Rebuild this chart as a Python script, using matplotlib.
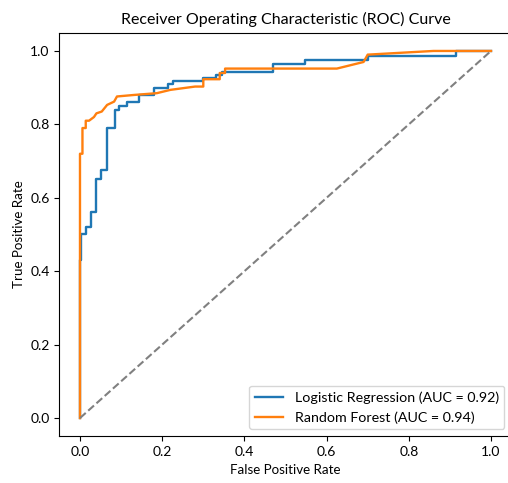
import matplotlib
matplotlib.use("Agg")
import matplotlib.pyplot as plt

plt.rcParams['font.family'] = ['Lato', 'DejaVu Sans']

# ROC points for the two models
fpr_lr = [0, 0, 0.002, 0.002, 0.014, 0.014, 0.026, 0.026, 0.038, 0.038, 0.05, 0.05,
          0.066, 0.066, 0.084, 0.084, 0.095, 0.095, 0.114, 0.114, 0.144, 0.144,
          0.18, 0.18, 0.215, 0.215, 0.227, 0.227, 0.30, 0.30, 0.33, 0.33,
          0.345, 0.345, 0.47, 0.47, 0.547, 0.547, 0.70, 0.70, 0.915, 0.915, 1.0]
tpr_lr = [0, 0.43, 0.43, 0.50, 0.50, 0.52, 0.52, 0.56, 0.56, 0.65, 0.65, 0.675,
          0.675, 0.79, 0.79, 0.84, 0.84, 0.85, 0.85, 0.86, 0.86, 0.88,
          0.88, 0.90, 0.90, 0.91, 0.91, 0.917, 0.917, 0.925, 0.925, 0.935,
          0.935, 0.944, 0.944, 0.964, 0.964, 0.975, 0.975, 0.985, 0.985, 1.0, 1.0]

fpr_rf = [0, 0, 0.006, 0.006, 0.014, 0.014, 0.022, 0.034, 0.04, 0.053, 0.066,
          0.083, 0.09, 0.13, 0.187, 0.22, 0.28, 0.30, 0.30, 0.34, 0.34, 0.353,
          0.353, 0.625, 0.69, 0.70, 0.86, 1.0]
tpr_rf = [0, 0.72, 0.72, 0.79, 0.79, 0.81, 0.81, 0.82, 0.83, 0.835, 0.853,
          0.862, 0.876, 0.88, 0.885, 0.894, 0.903, 0.903, 0.923, 0.923, 0.94, 0.94,
          0.952, 0.952, 0.97, 0.99, 1.0, 1.0]

auc_lr = 0.92
auc_rf = 0.94

fig = plt.figure(figsize=(5.08, 4.83), dpi=100)
ax = fig.add_axes([0.117, 0.0965, 0.89, 0.836])

ax.plot(fpr_lr, tpr_lr, lw=1.7, label=f'Logistic Regression (AUC = {auc_lr:.2f})')
ax.plot(fpr_rf, tpr_rf, lw=1.7, label=f'Random Forest (AUC = {auc_rf:.2f})')
ax.plot([0, 1], [0, 1], color='gray', linestyle='--')

ax.set_xlabel('False Positive Rate', fontsize=9.6)
ax.set_ylabel('True Positive Rate', fontsize=9.6)
ax.set_title('Receiver Operating Characteristic (ROC) Curve', fontsize=11.5)
ax.tick_params(labelsize=10)
ax.legend(loc='lower right', fontsize=10.3)

fig.savefig('out.png', dpi=100)
